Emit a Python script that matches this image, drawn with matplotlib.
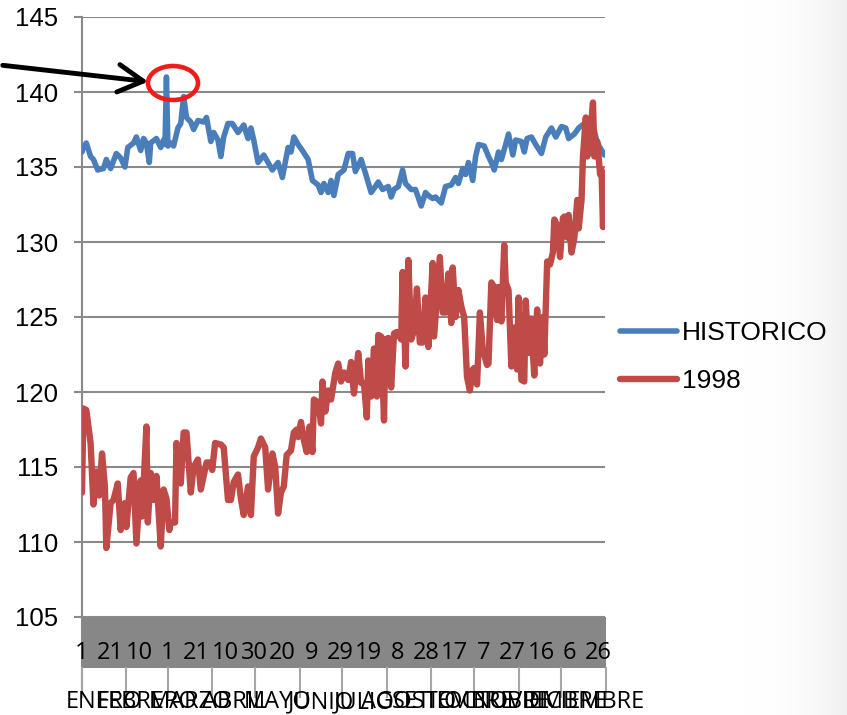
import matplotlib
matplotlib.use("Agg")
import matplotlib.pyplot as plt
import matplotlib.transforms as mtransforms
from matplotlib.patches import Ellipse, FancyArrowPatch
from matplotlib.lines import Line2D
import numpy as np

# ---------------- data ----------------
hist_days = [0, 1, 3, 6, 8, 11, 15, 17, 20, 24,
             27, 30, 32, 36, 38, 41, 43, 45, 47, 48,
             52, 55, 57, 58, 59, 60, 62, 64, 67, 69,
             71, 73, 76, 78, 81, 85, 87, 90, 92, 95,
             97, 99, 102, 105, 109, 113, 116, 118, 120, 123,
             127, 130, 133, 137, 140, 144, 146, 148, 151, 154,
             158, 161, 165, 167, 169, 172, 174, 176, 179, 183,
             186, 189, 191, 195, 198, 202, 205, 207, 210, 214,
             216, 218, 221, 224, 226, 230, 233, 237, 240, 242,
             245, 247, 251, 254, 258, 261, 263, 266, 268, 270,
             273, 275, 277, 281, 284, 286, 288, 291, 293, 296,
             298, 301, 303, 307, 309, 311, 314, 317, 321, 324,
             328, 331, 335, 338, 340, 344, 347, 351, 354, 357,
             360, 365]
hist_vals = [136.0, 136.3, 136.6, 135.7, 135.5, 134.8, 134.9, 135.5, 134.9, 135.9,
             135.6, 135.0, 136.3, 136.6, 137.0, 136.1, 136.9, 136.6, 135.3, 136.6,
             136.9, 136.3, 136.8, 136.5, 141.0, 136.4, 136.6, 136.4, 137.6, 137.9,
             139.7, 138.3, 138.0, 137.5, 138.1, 138.0, 138.3, 136.7, 137.3, 136.8,
             135.7, 137.0, 137.9, 137.9, 137.3, 137.8, 136.9, 137.6, 136.8, 135.3,
             135.8, 135.3, 134.8, 135.3, 134.3, 136.3, 136.0, 137.0, 136.5, 136.1,
             135.5, 134.1, 133.8, 133.3, 133.9, 133.3, 134.1, 133.1, 134.5, 134.8,
             135.9, 135.9, 134.7, 135.5, 134.6, 133.3, 133.7, 134.0, 133.5, 133.7,
             133.0, 133.5, 133.7, 134.8, 133.9, 133.5, 133.5, 132.4, 133.3, 133.1,
             132.9, 133.0, 132.6, 133.7, 133.8, 134.3, 133.9, 134.9, 134.5, 135.3,
             134.1, 135.7, 136.5, 136.4, 135.7, 135.3, 134.8, 136.0, 135.5, 136.5,
             137.2, 135.8, 136.8, 136.7, 136.0, 136.9, 137.0, 136.5, 135.9, 137.0,
             137.6, 137.0, 137.7, 137.6, 136.9, 137.2, 137.6, 137.9, 137.6, 137.8,
             136.6, 135.8]

y98_days = [0, 1, 3, 6, 8, 10, 12, 14, 16, 17,
            20, 22, 25, 27, 30, 31, 34, 36, 38, 41,
            42, 45, 46, 48, 50, 52, 55, 57, 59, 61,
            62, 65, 66, 69, 71, 73, 76, 78, 81, 83,
            87, 89, 91, 93, 97, 99, 102, 104, 106, 109,
            111, 113, 116, 118, 120, 123, 125, 128, 130, 133,
            135, 137, 139, 141, 143, 146, 148, 150, 151, 153,
            155, 157, 159, 161, 162, 165, 167, 168, 170, 172,
            174, 177, 179, 181, 183, 186, 188, 190, 193, 195,
            197, 199, 200, 202, 204, 206, 207, 209, 211, 212,
            214, 216, 218, 220, 223, 224, 226, 228, 230, 232,
            234, 236, 238, 240, 242, 245, 246, 248, 250, 252,
            254, 256, 258, 259, 261, 263, 265, 267, 269, 271,
            273, 274, 276, 278, 280, 283, 284, 286, 288, 290,
            291, 293, 295, 296, 298, 300, 302, 304, 305, 307,
            309, 310, 312, 314, 315, 316, 318, 320, 322, 323,
            325, 327, 329, 330, 332, 334, 336, 337, 339, 340,
            342, 344, 346, 347, 349, 350, 352, 353, 356, 357,
            358, 360, 362, 363, 364, 365]
y98_vals = [113.3, 118.9, 118.8, 116.6, 112.5, 114.7, 113.1, 115.9, 113.7, 109.6,
            112.6, 112.8, 113.9, 110.8, 112.6, 111.0, 114.3, 114.6, 109.9, 114.1,
            111.7, 117.7, 111.3, 114.6, 112.8, 114.4, 109.7, 113.5, 112.9, 110.8,
            111.3, 111.3, 116.6, 113.9, 117.3, 117.3, 113.3, 115.0, 115.5, 113.5,
            115.3, 115.3, 114.8, 116.6, 116.5, 116.3, 112.8, 112.8, 114.0, 114.5,
            112.9, 111.8, 113.7, 111.8, 115.7, 116.3, 116.9, 116.3, 113.5, 115.9,
            115.0, 111.9, 113.3, 113.7, 115.8, 116.1, 117.3, 117.5, 117.0, 118.0,
            116.8, 116.0, 117.7, 116.0, 119.5, 119.3, 117.9, 120.7, 118.7, 120.1,
            119.5, 121.3, 121.9, 120.7, 121.3, 120.8, 122.0, 119.9, 122.6, 120.6,
            120.6, 118.3, 122.1, 119.7, 122.9, 119.7, 123.8, 123.7, 118.1, 123.5,
            123.6, 120.3, 123.9, 124.0, 123.5, 128.0, 121.7, 128.8, 123.5, 124.1,
            126.9, 123.3, 123.3, 126.3, 123.0, 128.6, 123.7, 126.4, 129.0, 125.3,
            125.3, 127.9, 124.6, 128.3, 125.0, 126.8, 125.7, 125.0, 121.0, 120.1,
            121.5, 121.6, 120.5, 125.3, 122.8, 121.8, 121.9, 127.3, 127.0, 124.8,
            127.0, 124.7, 129.8, 127.3, 126.8, 121.7, 124.3, 121.5, 126.3, 120.8,
            120.7, 126.1, 122.6, 124.9, 122.6, 121.1, 125.5, 121.9, 125.0, 122.5,
            128.7, 128.5, 129.3, 131.5, 131.1, 129.0, 131.6, 131.7, 130.3, 131.8,
            129.3, 130.3, 132.8, 130.9, 132.8, 135.7, 138.3, 135.7, 138.1, 139.3,
            135.7, 136.7, 134.5, 134.8, 131.0, 134.3]

series_names = ["HISTORICO", "1998"]
day_tick_labels = ["1", "21", "10", "1", "21", "10", "30", "20", "9", "29",
                   "19", "8", "28", "17", "7", "27", "16", "6", "26"]
month_names = ["ENERO", "FEBRERO", "MARZO", "ABRIL", "MAYO", "JUNIO", "JULIO",
               "AGOSTO", "SETIEMBRE", "OCTUBRE", "NOVIEMBRE", "DICIEMBRE"]
month_lengths = [31, 29, 31, 30, 31, 30, 31, 31, 30, 31, 30, 31]
y_ticks = [105, 110, 115, 120, 125, 130, 135, 140, 145]

# ---------------- figure ----------------
W, H = 847, 715
fig = plt.figure(figsize=(W / 100, H / 100), dpi=100)
fig.patch.set_facecolor("white")

# faint slide gradient on the right edge
bg = fig.add_axes([740 / W, 0, 107 / W, 1], zorder=-10)
grad = np.linspace(0, 1, 200)[None, :] ** 2.5
bg.imshow(np.dstack([1 - 0.06 * grad] * 3), aspect="auto", extent=[0, 1, 0, 1])
bg.axis("off")

def px_rect(x0, y0, x1, y1):
    return [x0 / W, 1 - y1 / H, (x1 - x0) / W, (y1 - y0) / H]

L, R, T, B = 82, 605, 17, 617
ax = fig.add_axes(px_rect(L, T, R, B))
ax.set_facecolor("none")

n_days = sum(month_lengths)
ax.set_xlim(0, n_days - 0.6)
ax.set_ylim(105, 145)
grid_c = "#8a8a8a"
ax.set_yticks(y_ticks)
ax.yaxis.grid(True, color=grid_c, linewidth=1.5)
ax.set_axisbelow(True)
ax.set_xticks([])
for s in ["top", "right", "bottom", "left"]:
    ax.spines[s].set_visible(False)
ax.tick_params(axis="y", length=6, width=1.5, color=grid_c, pad=11,
               labelsize=18.5)
for lab in ax.get_yticklabels():
    lab.set_fontfamily("Liberation Sans")

blue = "#4a7ebb"
red = "#be4b48"
ax.plot(hist_days, hist_vals, color=blue, lw=4.0, solid_joinstyle="round",
        solid_capstyle="round", label=series_names[0], zorder=3)
ax.plot(y98_days, y98_vals, color=red, lw=4.6, solid_joinstyle="round",
        solid_capstyle="round", label=series_names[1], zorder=4)

# left axis line (extends through category band, drawn under band fill)
fig.add_artist(Line2D([L / W, L / W], [1 - T / H, 1 - 697 / H],
                      color=grid_c, lw=1.5, transform=fig.transFigure,
                      zorder=-2))

# grey category band
band = fig.add_axes(px_rect(L, 617, R + 1, 668), zorder=-1)
band.set_facecolor("#878787")
band.set_xlim(ax.get_xlim())
band.set_ylim(0, 1)
band.set_xticks([])
band.set_yticks([])
for s in band.spines.values():
    s.set_visible(False)
for i, lab in enumerate(day_tick_labels):
    band.text(i * 20, 0.29, lab, ha="center", va="center", fontsize=17,
              fontfamily="Open Sans", color="black", clip_on=False)

# month dividers and labels
trans = mtransforms.blended_transform_factory(ax.transData, fig.transFigure)
edges = np.concatenate([[0], np.cumsum(month_lengths)])
for e in edges:
    fig.add_artist(Line2D([e, e], [1 - 668 / H, 1 - 697 / H], color="#a6a6a6",
                          lw=1.5, transform=trans, clip_on=False))
for name, a, b in zip(month_names, edges[:-1], edges[1:]):
    fig.text((a + b) / 2, 1 - 690 / H, name, transform=trans, ha="center",
             va="top", fontsize=17, fontfamily="Open Sans", color="black")

# legend
ax.legend(loc="center left", bbox_to_anchor=(620 / W, 1 - 357 / H),
          bbox_transform=fig.transFigure, frameon=False,
          prop={"family": "Liberation Sans", "size": 19},
          handlelength=2.15, handletextpad=0.2, labelspacing=0.9,
          borderpad=0, borderaxespad=0)

# annotation arrow and circle
arrow = FancyArrowPatch((0 / W, 1 - 65 / H), (151 / W, 1 - 82 / H),
                        transform=fig.transFigure, arrowstyle="->,head_length=1.0,head_width=0.55",
                        mutation_scale=18, color="black", lw=3.5)
fig.add_artist(arrow)
fig.add_artist(Ellipse((173 / W, 1 - 83 / H), 50 / W, 34 / H,
                       transform=fig.transFigure, fill=False,
                       edgecolor="#ee1c1c", lw=3.3))

fig.savefig("out.png", dpi=100)
